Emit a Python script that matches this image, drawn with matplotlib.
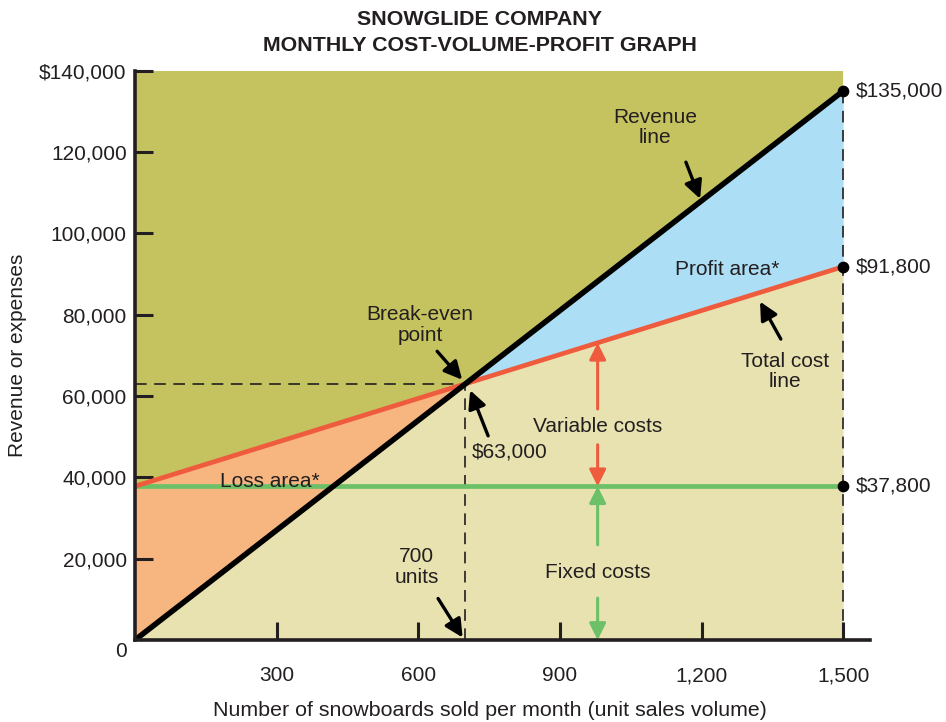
import numpy as np
import matplotlib
matplotlib.use("Agg")
import matplotlib.pyplot as plt

plt.rcParams["font.family"] = ["Liberation Sans", "DejaVu Sans"]
INK = "#231F20"
OLIVE, BEIGE, BLUE, ORANGE = "#C5C35F", "#E8E2B0", "#ACDFF6", "#F7B580"
RED, GREEN = "#EF5B3D", "#6CC067"

# data
units = np.array([0, 700, 1500])
revenue = np.array([0, 63000, 135000])
total_cost = np.array([37800, 63000, 91800])
fixed_cost = np.array([37800, 37800, 37800])
break_even_units, break_even_value = 700, 63000
end_values = [135000, 91800, 37800]
end_labels = ["$135,000", "$91,800", "$37,800"]
x_ticks = [300, 600, 900, 1200, 1500]
x_labels = ["300", "600", "900", "1,200", "1,500"]
y_ticks = [20000, 40000, 60000, 80000, 100000, 120000, 140000]
y_labels = ["20,000", "40,000", "60,000", "80,000", "100,000", "120,000", "$140,000"]
arrow_units = 980  # where the cost brackets are drawn

fig = plt.figure(figsize=(9.46, 7.22), dpi=100)
ax = fig.add_axes([0.1427, 0.1136, 0.777, 0.7885])
ax.set_xlim(0, 1557)
ax.set_ylim(0, 140000)

# shaded areas
ax.fill_between(units[[0, -1]], 0, y_ticks[-1], color=OLIVE, lw=0, zorder=1)
ax.fill_between(units, 0, np.minimum(revenue, total_cost), color=BEIGE, lw=0, zorder=1)
ax.fill_between(units, revenue, total_cost, where=total_cost >= revenue,
                color=ORANGE, lw=0, zorder=1)
ax.fill_between(units, revenue, total_cost, where=revenue >= total_cost,
                color=BLUE, lw=0, zorder=1)

# guide lines
dash = dict(color=INK, lw=1.2, linestyle=(0, (7, 4.5)), zorder=2)
ax.hlines(break_even_value, 0, break_even_units, **dash)
ax.vlines(break_even_units, 0, break_even_value, **dash)
ax.vlines(units[-1], 0, revenue[-1], **dash)

ax.plot(units, fixed_cost, color=GREEN, lw=3.4, zorder=3)
ax.plot(units, total_cost, color=RED, lw=3.4, zorder=3)
ax.plot(units, revenue, color="black", lw=4, zorder=4)
ax.scatter([units[-1]] * 3, end_values, s=55, color="black", zorder=6, clip_on=False)
for v, lab in zip(end_values, end_labels):
    ax.annotate(lab, xy=(units[-1], v), xytext=(9, 0), textcoords="offset points",
                ha="left", va="center", fontsize=15, color=INK)

# axes styling
for s in ["top", "right"]:
    ax.spines[s].set_visible(False)
for s in ["left", "bottom"]:
    ax.spines[s].set_linewidth(2.6)
    ax.spines[s].set_color(INK)
    ax.spines[s].set_zorder(7)
ax.set_xticks(x_ticks)
ax.set_xticklabels(x_labels)
ax.set_yticks(y_ticks)
ax.set_yticklabels(y_labels)
ax.tick_params(axis="x", direction="in", length=13, width=2.2, pad=19, labelsize=15,
               colors=INK)
ax.tick_params(axis="y", direction="in", length=13, width=2.2, pad=6, labelsize=15,
               colors=INK)
ax.annotate("0", xy=(0, 0), xytext=(-6, -8), textcoords="offset points",
            ha="right", va="center", fontsize=15, color=INK)
ax.set_ylabel("Revenue or expenses", fontsize=15, color=INK)
ax.yaxis.set_label_coords(-0.147, 0.5)
ax.set_xlabel("Number of snowboards sold per month (unit sales volume)", fontsize=15.4,
              color=INK)
ax.xaxis.set_label_coords(0.483, -0.107)

fig.text(0.507, 0.973, "SNOWGLIDE COMPANY", ha="center", va="center",
         fontsize=15.4, fontweight="bold", color=INK)
fig.text(0.507, 0.937, "MONTHLY COST-VOLUME-PROFIT GRAPH", ha="center", va="center",
         fontsize=15.4, fontweight="bold", color=INK)

# callouts
arrow = dict(arrowstyle="-|>", color="black", lw=2.4, mutation_scale=27,
             shrinkA=0, shrinkB=0)
txt = dict(ha="center", va="center", fontsize=15, color=INK, zorder=8)
ax.annotate("", xy=(1197, 108500), xytext=(1167, 117500), arrowprops=arrow, zorder=8)
ax.text(1101, 126000, "Revenue\nline", linespacing=1.1, **txt)
ax.text(1254, 91000, "Profit area*", **txt)
ax.annotate("", xy=(1324, 83200), xytext=(1368, 74000), arrowprops=arrow, zorder=8)
ax.text(1377, 66000, "Total cost\nline", linespacing=1.1, **txt)
ax.annotate("", xy=(693, 64000), xytext=(640, 71000), arrowprops=arrow, zorder=8)
ax.text(604, 77500, "Break-even\npoint", linespacing=1.1, **txt)
ax.annotate("", xy=(710, 61400), xytext=(748, 50200), arrowprops=arrow, zorder=8)
ax.text(794, 46300, "$63,000", **txt)
ax.annotate("", xy=(694, 600), xytext=(642, 10200), arrowprops=arrow, zorder=8)
ax.text(596, 18000, "700\nunits", linespacing=1.1, **txt)
ax.text(286, 39000, "Loss area*", **txt)

cost_top = np.interp(arrow_units, units, total_cost)
bracket = dict(arrowstyle="-|>", lw=2.2, mutation_scale=25, shrinkA=0, shrinkB=0)
ax.annotate("", xy=(arrow_units, cost_top), xytext=(arrow_units, 56800),
            arrowprops=dict(color=RED, **bracket), zorder=5)
ax.annotate("", xy=(arrow_units, fixed_cost[0]), xytext=(arrow_units, 48000),
            arrowprops=dict(color=RED, **bracket), zorder=5)
ax.text(arrow_units, 52400, "Variable costs", **txt)
ax.annotate("", xy=(arrow_units, fixed_cost[0]), xytext=(arrow_units, 23400),
            arrowprops=dict(color=GREEN, **bracket), zorder=5)
ax.annotate("", xy=(arrow_units, 0), xytext=(arrow_units, 10300),
            arrowprops=dict(color=GREEN, **bracket), zorder=5)
ax.text(arrow_units, 16700, "Fixed costs", **txt)

fig.savefig("out.png", dpi=100)
